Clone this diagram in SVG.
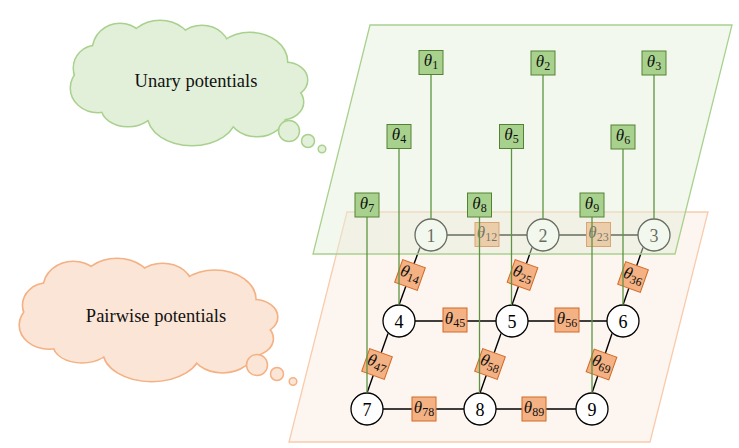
<svg xmlns="http://www.w3.org/2000/svg" xmlns:xlink="http://www.w3.org/1999/xlink" width="739" height="448" viewBox="0 0 739 448">
<style>
.gb{fill:#a9d18e;stroke:#548235;stroke-width:1}
.ob{fill:#f4b183;stroke:#d06a26;stroke-width:1}
.th{font-family:"Liberation Serif",serif;font-size:17px;font-style:italic;text-anchor:middle;fill:#111}
.sb{font-size:12px;font-style:normal}
.nd{fill:#fff;stroke:#000;stroke-width:1.3}
.nl{font-family:"Liberation Serif",serif;font-size:18px;text-anchor:middle;fill:#000}
.e{stroke:#000;stroke-width:1.4;fill:none}
.gl{stroke:#5e9441;stroke-width:1.3;fill:none}
.ct{font-family:"Liberation Serif",serif;font-size:18.5px;text-anchor:middle;fill:#111}
</style>
<defs>
<g id="lobes">
<ellipse cx="98" cy="88" rx="27" ry="24"/>
<ellipse cx="128" cy="108" rx="26" ry="18"/>
<ellipse cx="192" cy="115" rx="44" ry="30"/>
<ellipse cx="257" cy="112" rx="29" ry="24"/>
<ellipse cx="282" cy="102" rx="21" ry="17"/>
<ellipse cx="286" cy="80" rx="21" ry="17"/>
<ellipse cx="250" cy="62" rx="37" ry="29"/>
<ellipse cx="202" cy="50" rx="27" ry="24"/>
<ellipse cx="160" cy="47" rx="32" ry="26"/>
<ellipse cx="120" cy="50" rx="27" ry="26"/>
<ellipse cx="96" cy="68" rx="22" ry="22"/>
<ellipse cx="190" cy="85" rx="85" ry="40"/>
</g>
</defs>

<!-- Unary cloud -->
<g id="cloud-unary">
<use xlink:href="#lobes" href="#lobes" fill="#e2f0d9" stroke="#a9d18e" stroke-width="3"/>
<use xlink:href="#lobes" href="#lobes" fill="#e2f0d9" stroke="none"/>
<circle cx="289" cy="131" r="10.5" fill="#e2f0d9" stroke="#a9d18e" stroke-width="1.5"/>
<circle cx="308" cy="141" r="6.5" fill="#e2f0d9" stroke="#a9d18e" stroke-width="1.5"/>
<circle cx="322" cy="149" r="3.8" fill="#e2f0d9" stroke="#a9d18e" stroke-width="1.5"/>
<text class="ct" x="196" y="86.5">Unary potentials</text>
</g>

<!-- Pairwise cloud -->
<g id="cloud-pairwise">
<g transform="translate(20 259) scale(1.089 0.984) translate(-71 -21)">
<use xlink:href="#lobes" href="#lobes" fill="#fbe5d6" stroke="#f4b183" stroke-width="3"/>
<use xlink:href="#lobes" href="#lobes" fill="#fbe5d6" stroke="none"/>
</g>
<circle cx="257" cy="365" r="10.5" fill="#fbe5d6" stroke="#f4b183" stroke-width="1.5"/>
<circle cx="277" cy="374" r="6.5" fill="#fbe5d6" stroke="#f4b183" stroke-width="1.5"/>
<circle cx="293" cy="381.5" r="3.8" fill="#fbe5d6" stroke="#f4b183" stroke-width="1.5"/>
<text class="ct" x="156" y="321.5">Pairwise potentials</text>
</g>

<!-- Pairwise plane -->
<polygon id="plane-pairwise" points="347,212 708,212 650,442 289,442" fill="#fbe5d6" fill-opacity="0.4" stroke="#f8cbad" stroke-width="1.3"/>

<!-- Pairwise connectors -->
<g id="edges">
<line class="e" x1="447" y1="235" x2="527" y2="235"/>
<line class="e" x1="559" y1="235" x2="638" y2="235"/>
<line class="e" x1="415" y1="321" x2="496" y2="321"/>
<line class="e" x1="528" y1="321" x2="607" y2="321"/>
<line class="e" x1="383" y1="409" x2="464" y2="409"/>
<line class="e" x1="496" y1="409" x2="576" y2="409"/>
<line class="e" x1="420" y1="247.5" x2="399" y2="305"/>
<line class="e" x1="532" y1="247.5" x2="512" y2="305"/>
<line class="e" x1="643" y1="247.5" x2="623" y2="305"/>
<line class="e" x1="388" y1="333.5" x2="367" y2="393"/>
<line class="e" x1="501" y1="333.5" x2="480" y2="393"/>
<line class="e" x1="612" y1="333.5" x2="592" y2="393"/>
</g>

<!-- Variable nodes -->
<g id="n1"><circle class="nd" cx="431" cy="235" r="16"/><text class="nl" x="431" y="241.5">1</text></g>
<g id="n2"><circle class="nd" cx="543" cy="235" r="16"/><text class="nl" x="543" y="241.5">2</text></g>
<g id="n3"><circle class="nd" cx="654" cy="235" r="16"/><text class="nl" x="654" y="241.5">3</text></g>
<g id="n4"><circle class="nd" cx="399" cy="321" r="16"/><text class="nl" x="399" y="327.5">4</text></g>
<g id="n5"><circle class="nd" cx="512" cy="321" r="16"/><text class="nl" x="512" y="327.5">5</text></g>
<g id="n6"><circle class="nd" cx="623" cy="321" r="16"/><text class="nl" x="623" y="327.5">6</text></g>
<g id="n7"><circle class="nd" cx="367" cy="409" r="16"/><text class="nl" x="367" y="415.5">7</text></g>
<g id="n8"><circle class="nd" cx="480" cy="409" r="16"/><text class="nl" x="480" y="415.5">8</text></g>
<g id="n9"><circle class="nd" cx="592" cy="409" r="16"/><text class="nl" x="592" y="415.5">9</text></g>

<!-- Pairwise factors -->
<g id="p12" transform="translate(487 234.5)"><rect class="ob" x="-12" y="-12" width="24" height="24"/><text class="th" x="0" y="3.5">θ<tspan class="sb" dy="3">12</tspan></text></g>
<g id="p23" transform="translate(598.5 234.5)"><rect class="ob" x="-12" y="-12" width="24" height="24"/><text class="th" x="0" y="3.5">θ<tspan class="sb" dy="3">23</tspan></text></g>
<g id="p45" transform="translate(455 320)"><rect class="ob" x="-12" y="-12" width="24" height="24"/><text class="th" x="0" y="3.5">θ<tspan class="sb" dy="3">45</tspan></text></g>
<g id="p56" transform="translate(567 320)"><rect class="ob" x="-12" y="-12" width="24" height="24"/><text class="th" x="0" y="3.5">θ<tspan class="sb" dy="3">56</tspan></text></g>
<g id="p78" transform="translate(424 409)"><rect class="ob" x="-12" y="-12" width="24" height="24"/><text class="th" x="0" y="3.5">θ<tspan class="sb" dy="3">78</tspan></text></g>
<g id="p89" transform="translate(534 409)"><rect class="ob" x="-12" y="-12" width="24" height="24"/><text class="th" x="0" y="3.5">θ<tspan class="sb" dy="3">89</tspan></text></g>
<g id="p14" transform="translate(410 275) rotate(19.5)"><rect class="ob" x="-12" y="-12" width="24" height="24"/><text class="th" x="0" y="3.5">θ<tspan class="sb" dy="3">14</tspan></text></g>
<g id="p25" transform="translate(522.5 275) rotate(19.5)"><rect class="ob" x="-12" y="-12" width="24" height="24"/><text class="th" x="0" y="3.5">θ<tspan class="sb" dy="3">25</tspan></text></g>
<g id="p36" transform="translate(633 277) rotate(19.5)"><rect class="ob" x="-12" y="-12" width="24" height="24"/><text class="th" x="0" y="3.5">θ<tspan class="sb" dy="3">36</tspan></text></g>
<g id="p47" transform="translate(377 364) rotate(19.5)"><rect class="ob" x="-12" y="-12" width="24" height="24"/><text class="th" x="0" y="3.5">θ<tspan class="sb" dy="3">47</tspan></text></g>
<g id="p58" transform="translate(490 364) rotate(19.5)"><rect class="ob" x="-12" y="-12" width="24" height="24"/><text class="th" x="0" y="3.5">θ<tspan class="sb" dy="3">58</tspan></text></g>
<g id="p69" transform="translate(601.5 364.5) rotate(19.5)"><rect class="ob" x="-12" y="-12" width="24" height="24"/><text class="th" x="0" y="3.5">θ<tspan class="sb" dy="3">69</tspan></text></g>

<!-- Unary plane (semi-transparent, over the top row) -->
<polygon id="plane-unary" points="370,25 732,25 675,254 313,254" fill="#e2f0d9" fill-opacity="0.45" stroke="#a9d18e" stroke-width="1.3"/>

<!-- Unary connectors -->
<g id="unary-links">
<line class="gl" x1="431" y1="74.5" x2="431" y2="219"/>
<line class="gl" x1="543" y1="75" x2="543" y2="219"/>
<line class="gl" x1="654" y1="75" x2="654" y2="219"/>
<line class="gl" x1="399" y1="148.5" x2="399" y2="305"/>
<line class="gl" x1="511.5" y1="148.5" x2="511.5" y2="305"/>
<line class="gl" x1="623" y1="149" x2="623" y2="305"/>
<line class="gl" x1="367" y1="217" x2="367" y2="393"/>
<line class="gl" x1="479.5" y1="217" x2="479.5" y2="393"/>
<line class="gl" x1="592" y1="217" x2="592" y2="393"/>
</g>

<!-- Unary factors -->
<g id="u1" transform="translate(431 62.5)"><rect class="gb" x="-12" y="-12" width="24" height="24"/><text class="th" x="0" y="3.5">θ<tspan class="sb" dy="3">1</tspan></text></g>
<g id="u2" transform="translate(543 63)"><rect class="gb" x="-12" y="-12" width="24" height="24"/><text class="th" x="0" y="3.5">θ<tspan class="sb" dy="3">2</tspan></text></g>
<g id="u3" transform="translate(654 63)"><rect class="gb" x="-12" y="-12" width="24" height="24"/><text class="th" x="0" y="3.5">θ<tspan class="sb" dy="3">3</tspan></text></g>
<g id="u4" transform="translate(399 136.5)"><rect class="gb" x="-12" y="-12" width="24" height="24"/><text class="th" x="0" y="3.5">θ<tspan class="sb" dy="3">4</tspan></text></g>
<g id="u5" transform="translate(511.5 136.5)"><rect class="gb" x="-12" y="-12" width="24" height="24"/><text class="th" x="0" y="3.5">θ<tspan class="sb" dy="3">5</tspan></text></g>
<g id="u6" transform="translate(623 137)"><rect class="gb" x="-12" y="-12" width="24" height="24"/><text class="th" x="0" y="3.5">θ<tspan class="sb" dy="3">6</tspan></text></g>
<g id="u7" transform="translate(367 205)"><rect class="gb" x="-12" y="-12" width="24" height="24"/><text class="th" x="0" y="3.5">θ<tspan class="sb" dy="3">7</tspan></text></g>
<g id="u8" transform="translate(479.5 205)"><rect class="gb" x="-12" y="-12" width="24" height="24"/><text class="th" x="0" y="3.5">θ<tspan class="sb" dy="3">8</tspan></text></g>
<g id="u9" transform="translate(592 205)"><rect class="gb" x="-12" y="-12" width="24" height="24"/><text class="th" x="0" y="3.5">θ<tspan class="sb" dy="3">9</tspan></text></g>
</svg>
